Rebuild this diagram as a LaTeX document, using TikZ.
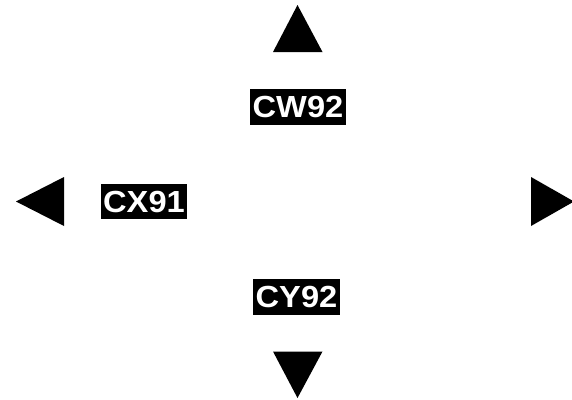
\documentclass[tikz,border=0pt]{standalone}
\usepackage{fontspec}
\setmainfont{Liberation Sans}
\newfontfamily\tagfont[FakeStretch=1.07]{Liberation Sans Bold}

\tikzset{
    tag/.style={fill=black, text=white, font=\tagfont\fontsize{30.5}{30.5}\selectfont,
        inner xsep=2.5pt, text height=21.8pt, text depth=0pt, inner ysep=7pt}
}

\begin{document}
\begin{tikzpicture}[x=1pt, y=-1pt]
    \useasboundingbox (0, 0) rectangle (572, 399);

    \fill (297.5, 5) -- (322.5, 52) -- (273, 52) -- cycle;
    \fill (16, 201.5) -- (64, 177) -- (64, 226) -- cycle;
    \fill (531, 177) -- (574, 201.5) -- (531, 226) -- cycle;
    \fill (273, 351.5) -- (322.5, 351.5) -- (297.5, 398) -- cycle;

    \node [tag] (cw) at (298, 107) {CW92};
    \node [tag] (cx) at (144, 201.5) {CX91};
    \node [tag] (cy) at (296.5, 297) {CY92};
\end{tikzpicture}
\end{document}
